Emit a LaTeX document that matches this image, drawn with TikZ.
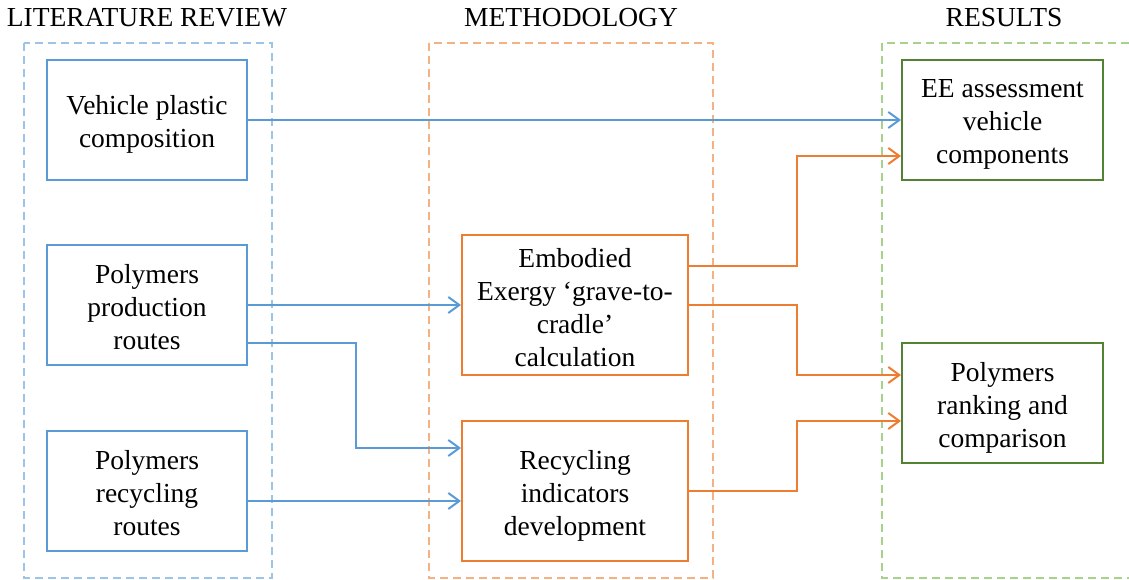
\documentclass[tikz,border=0pt]{standalone}
\usepackage{fontspec}
\setmainfont{Liberation Serif}
\usetikzlibrary{arrows.meta}
\definecolor{cblue}{HTML}{5B9BD5}
\definecolor{cbluel}{HTML}{9DC3E6}
\definecolor{corange}{HTML}{ED7D31}
\definecolor{corangel}{HTML}{F4B183}
\definecolor{cgreen}{HTML}{548235}
\definecolor{cgreenl}{HTML}{A9D18E}
\tikzset{
  every node/.style={font=\fontsize{27.5}{33}\selectfont},
  box/.style={draw, line width=2pt, inner sep=0pt, fill=white},
  boxtext/.style={align=center, inner sep=0pt},
  bluebox/.style={box, draw=cblue},
  orangebox/.style={box, draw=corange},
  greenbox/.style={box, draw=cgreen},
  group/.style={line width=1.5pt, dash pattern=on 8pt off 5pt},
  title/.style={inner sep=0pt},
  link/.style={line width=2pt, -{Straight Barb[length=11pt,width=16pt]}},
}
\begin{document}
\begin{tikzpicture}[x=1pt,y=-1pt]
\useasboundingbox (0,0) rectangle (1129,580);
% group frames
\draw[group, draw=cbluel] (24,43) rectangle (272,578);
\draw[group, draw=corangel] (429,43) rectangle (713,578);
\draw[group, draw=cgreenl] (882,43) rectangle (1140,578);
% titles
\node[title] (t1) at (147,17.5) {LITERATURE REVIEW};
\node[title] (t2) at (571,17.5) {METHODOLOGY};
\node[title] (t3) at (1004,17.5) {RESULTS};
% boxes
\node[bluebox, minimum width=200pt, minimum height=120pt] (vpc) at (147,120) {};
\node[bluebox, minimum width=200pt, minimum height=120pt] (ppr) at (147,305) {};
\node[bluebox, minimum width=200pt, minimum height=120pt] (prr) at (147,491) {};
\node[orangebox, minimum width=226pt, minimum height=140pt] (ee) at (575,305) {};
\node[orangebox, minimum width=226pt, minimum height=140pt] (rid) at (575,491) {};
\node[greenbox, minimum width=201pt, minimum height=120pt] (eea) at (1002.5,120) {};
\node[greenbox, minimum width=201pt, minimum height=120pt] (prc) at (1002.5,403) {};
% box texts
\node[boxtext] (vpc-t) at ([yshift=-4.5pt]vpc.center) {Vehicle plastic\\composition};
\node[boxtext] (ppr-t) at ([yshift=-2.5pt]ppr.center) {Polymers\\production\\routes};
\node[boxtext] (prr-t) at ([yshift=-2.5pt]prr.center) {Polymers\\recycling\\routes};
\node[boxtext] (ee-t) at ([yshift=-2.5pt]ee.center) {Embodied\\Exergy ‘grave-to-\\cradle’\\calculation};
\node[boxtext] (rid-t) at ([yshift=-5pt]rid.center) {Recycling\\indicators\\development};
\node[boxtext] (eea-t) at ([yshift=-4.5pt]eea.center) {EE assessment\\vehicle\\components};
\node[boxtext] (prc-t) at ([yshift=-4.5pt]prc.center) {Polymers\\ranking and\\comparison};
% connectors
\draw[link, cblue] (vpc.east) -- (vpc.east -| eea.west);
\draw[link, cblue] (ppr.east) -- (ppr.east -| ee.west);
\draw[link, cblue] ([yshift=-38pt]ppr.east) -- ++(108,0) |- ([yshift=43pt]rid.west);
\draw[link, cblue] ([yshift=-10pt]prr.east) -- ([yshift=-10pt]prr.east -| rid.west);
\draw[link, corange] ([yshift=39pt]ee.east) -- ++(108,0) |- ([yshift=-36pt]eea.west);
\draw[link, corange] (ee.east) -- ++(108,0) |- ([yshift=28pt]prc.west);
\draw[link, corange] (rid.east) -- ++(108,0) |- ([yshift=-18pt]prc.west);
\end{tikzpicture}
\end{document}
